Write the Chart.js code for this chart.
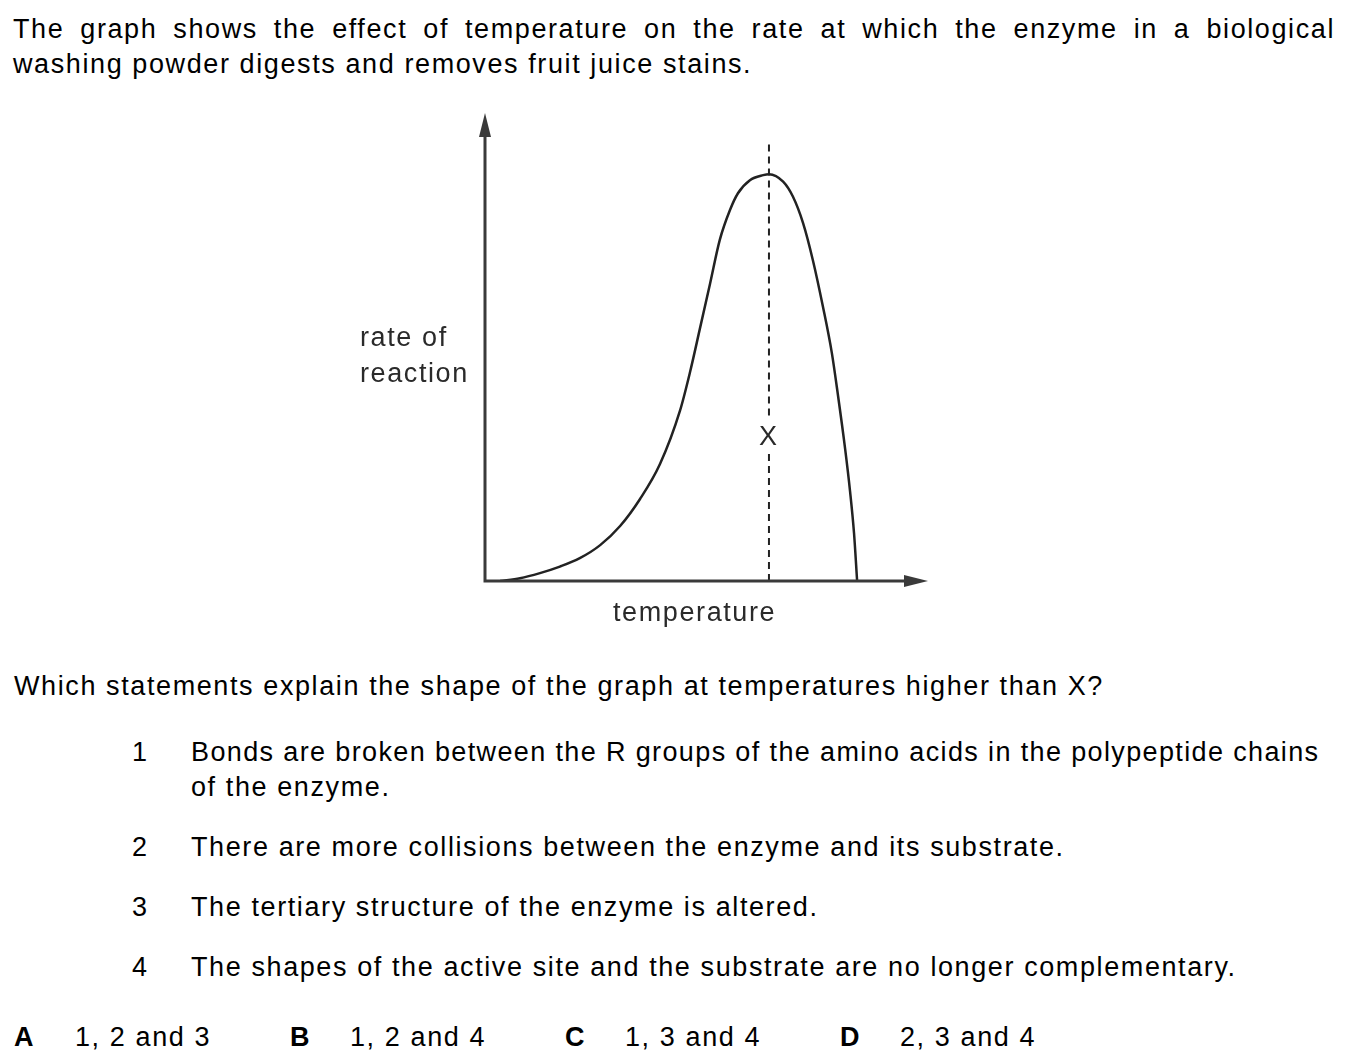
<!DOCTYPE html>
<html>
<head>
<meta charset="utf-8">
<script src="https://cdn.jsdelivr.net/npm/chart.js@4.4.1/dist/chart.umd.min.js"></script>
<style>
  body { margin: 0; background: #fff; font-family: "Liberation Sans", Arial, sans-serif; color: #000; }
  .txt { position: absolute; font-size: 27px; line-height: 35px; white-space: nowrap; letter-spacing: 1.6px; }
  #intro { left: 13px; top: 12px; width: 1322px; white-space: normal; text-align: justify; text-align-last: left; }
  .num { position: absolute; left: 132px; }
  .st { position: absolute; left: 191px; }
  #chartBox { position: absolute; left: 340px; top: 100px; width: 620px; height: 540px; }
</style>
</head>
<body>
<div id="intro" class="txt">The graph shows the effect of temperature on the rate at which the enzyme in a biological washing powder digests and removes fruit juice stains.</div>

<div id="chartBox"><canvas id="grafico"></canvas></div>

<div class="txt" style="left:14px; top:669px;">Which statements explain the shape of the graph at temperatures higher than X?</div>

<div class="txt num" style="top:735px;">1</div>
<div class="txt st" style="top:735px; letter-spacing:1.37px;">Bonds are broken between the R groups of the amino acids in the polypeptide chains</div>
<div class="txt st" style="top:770px;">of the enzyme.</div>
<div class="txt num" style="top:830px;">2</div>
<div class="txt st" style="top:830px;">There are more collisions between the enzyme and its substrate.</div>
<div class="txt num" style="top:890px;">3</div>
<div class="txt st" style="top:890px;">The tertiary structure of the enzyme is altered.</div>
<div class="txt num" style="top:950px;">4</div>
<div class="txt st" style="top:950px;">The shapes of the active site and the substrate are no longer complementary.</div>

<div class="txt" style="left:14px; top:1020px;"><b>A</b></div>
<div class="txt" style="left:75px; top:1020px;">1, 2 and 3</div>
<div class="txt" style="left:290px; top:1020px;"><b>B</b></div>
<div class="txt" style="left:350px; top:1020px;">1, 2 and 4</div>
<div class="txt" style="left:565px; top:1020px;"><b>C</b></div>
<div class="txt" style="left:625px; top:1020px;">1, 3 and 4</div>
<div class="txt" style="left:840px; top:1020px;"><b>D</b></div>
<div class="txt" style="left:900px; top:1020px;">2, 3 and 4</div>

<script>
// curva (unidades arbitrarias, 0-100 nos dois eixos)
const temperatura = [3.4, 7.9, 12.4, 16.9, 21.4, 26.0, 30.5, 35.0, 39.5, 44.0, 46.3, 48.5, 50.8, 53.0, 55.3, 57.1, 59.8, 62.8, 64.1, 67.3, 69.5, 71.8, 74.0, 76.3, 78.3, 79.7, 81.3, 82.4, 83.3, 84.0];
const taxa = [0, 0.6, 1.7, 3.1, 4.9, 7.7, 11.8, 17.6, 25.1, 36.5, 44.9, 54.1, 63.8, 73.2, 79.6, 83.2, 86.0, 87.1, 87.3, 85.7, 82.5, 76.8, 68.9, 58.8, 48.9, 39.7, 28.3, 19.3, 10.3, 0];

// linha tracejada no otimo X, interrompida em volta do rotulo
const posX = 64.1;
const tracoBaixo = [0, 27.5];
const tracoCima = [35.5, 94.2];
const posRotuloX = 30.8;

const pontosCurva = temperatura.map(function (t, i) { return { x: t, y: taxa[i] }; });
const pontosTraco = [
  { x: posX, y: tracoBaixo[0] }, { x: posX, y: tracoBaixo[1] },
  { x: posX, y: NaN },
  { x: posX, y: tracoCima[0] }, { x: posX, y: tracoCima[1] }
];

const eixos = {
  id: "eixosComSeta",
  afterDatasetsDraw: function (chart) {
    const ctx = chart.ctx;
    const a = chart.chartArea;
    ctx.save();
    ctx.strokeStyle = "#3a3a3a";
    ctx.fillStyle = "#3a3a3a";
    ctx.lineWidth = 3;
    ctx.beginPath();
    ctx.moveTo(a.left, a.top + 10);
    ctx.lineTo(a.left, a.bottom);
    ctx.lineTo(a.right - 10, a.bottom);
    ctx.stroke();
    // pontas das setas
    ctx.beginPath();
    ctx.moveTo(a.left, a.top - 2);
    ctx.lineTo(a.left - 6, a.top + 22);
    ctx.lineTo(a.left + 6, a.top + 22);
    ctx.closePath();
    ctx.fill();
    ctx.beginPath();
    ctx.moveTo(a.right, a.bottom);
    ctx.lineTo(a.right - 24, a.bottom - 6);
    ctx.lineTo(a.right - 24, a.bottom + 6);
    ctx.closePath();
    ctx.fill();

    ctx.fillStyle = "#2a2a2a";
    ctx.font = '27px "Liberation Sans", Arial, sans-serif';
    ctx.letterSpacing = "1.6px";
    ctx.textBaseline = "alphabetic";
    ctx.textAlign = "left";
    ctx.fillText("rate of", a.left - 125, 246);
    ctx.fillText("reaction", a.left - 125, 282);
    ctx.fillText("temperature", a.left + 128, 521);
    const px = chart.scales.x.getPixelForValue(posX);
    const py = chart.scales.y.getPixelForValue(posRotuloX);
    ctx.letterSpacing = "0px";
    ctx.textAlign = "center";
    ctx.textBaseline = "middle";
    ctx.fillText("X", px - 1, py);
    ctx.restore();
  }
};

new Chart(document.getElementById("grafico"), {
  type: "line",
  plugins: [eixos],
  data: {
    datasets: [
      {
        label: "rate of reaction",
        data: pontosCurva,
        borderColor: "#222",
        borderWidth: 2.5,
        pointRadius: 0,
        cubicInterpolationMode: "monotone",
        fill: false
      },
      {
        label: "X",
        data: pontosTraco,
        borderColor: "#222",
        borderWidth: 2,
        borderDash: [7, 5],
        pointRadius: 0,
        spanGaps: false,
        fill: false
      }
    ]
  },
  options: {
    responsive: true,
    maintainAspectRatio: false,
    animation: false,
    layout: { padding: { left: 145, right: 32, top: 15, bottom: 59 } },
    plugins: { legend: { display: false }, tooltip: { enabled: false } },
    scales: {
      x: { type: "linear", min: 0, max: 100, display: false },
      y: { min: 0, max: 100, display: false }
    }
  }
});
</script>
</body>
</html>
